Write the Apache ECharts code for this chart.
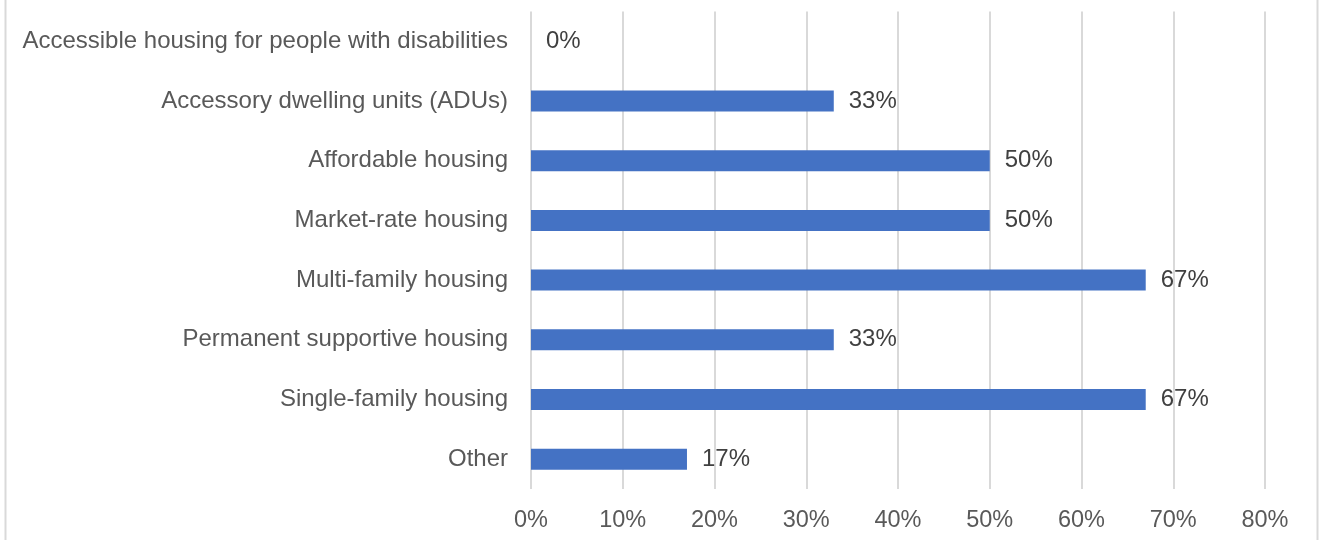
<!DOCTYPE html>
<html>
<head>
<meta charset="utf-8">
<script src="https://cdn.jsdelivr.net/npm/echarts@6/dist/echarts.min.js"></script>
<style>
html,body{margin:0;padding:0;background:#fff;}
#chart{width:1319px;height:540px;}
</style>
</head>
<body>
<div id="chart"></div>
<script>
const categories = [
  "Accessible housing for people with disabilities",
  "Accessory dwelling units (ADUs)",
  "Affordable housing",
  "Market-rate housing",
  "Multi-family housing",
  "Permanent supportive housing",
  "Single-family housing",
  "Other"
];
const values = [0, 33, 50, 50, 67, 33, 67, 17];
const axisMin = 0;
const axisMax = 80;
const axisStep = 10;

const chart = echarts.init(document.getElementById('chart'), null, {renderer: 'canvas'});
const font = 'Liberation Sans, Arial, sans-serif';
chart.setOption({
  animation: false,
  backgroundColor: '#ffffff',
  graphic: [
    {type: 'line', shape: {x1: 5.5, y1: 0, x2: 5.5, y2: 540}, style: {stroke: '#d9d9d9', lineWidth: 2}},
    {type: 'line', shape: {x1: 1317.5, y1: 0, x2: 1317.5, y2: 540}, style: {stroke: '#d9d9d9', lineWidth: 2}}
  ],
  grid: {left: 531, right: 54, top: 11.5, bottom: 51, containLabel: false},
  xAxis: {
    type: 'value',
    min: axisMin, max: axisMax, interval: axisStep,
    axisLine: {show: false},
    axisTick: {show: false},
    splitLine: {show: true, lineStyle: {color: '#d9d9d9', width: 2}},
    axisLabel: {
      formatter: v => v + '%',
      color: '#595959', fontSize: 23.5, fontFamily: font, margin: 20
    }
  },
  yAxis: {
    type: 'category',
    data: categories,
    inverse: true,
    axisLine: {show: false},
    axisTick: {show: false},
    splitLine: {show: false},
    axisLabel: {color: '#595959', fontSize: 24, fontFamily: font, margin: 23, padding: [6, 0, 0, 0]}
  },
  series: [{
    type: 'bar',
    data: values,
    barWidth: 21,
    itemStyle: {color: '#4472C4'},
    label: {
      show: true, position: 'right', distance: 15,
      formatter: p => p.value + '%',
      color: '#404040', fontSize: 24, fontFamily: font, padding: [6, 0, 0, 0]
    }
  }]
});
</script>
</body>
</html>
